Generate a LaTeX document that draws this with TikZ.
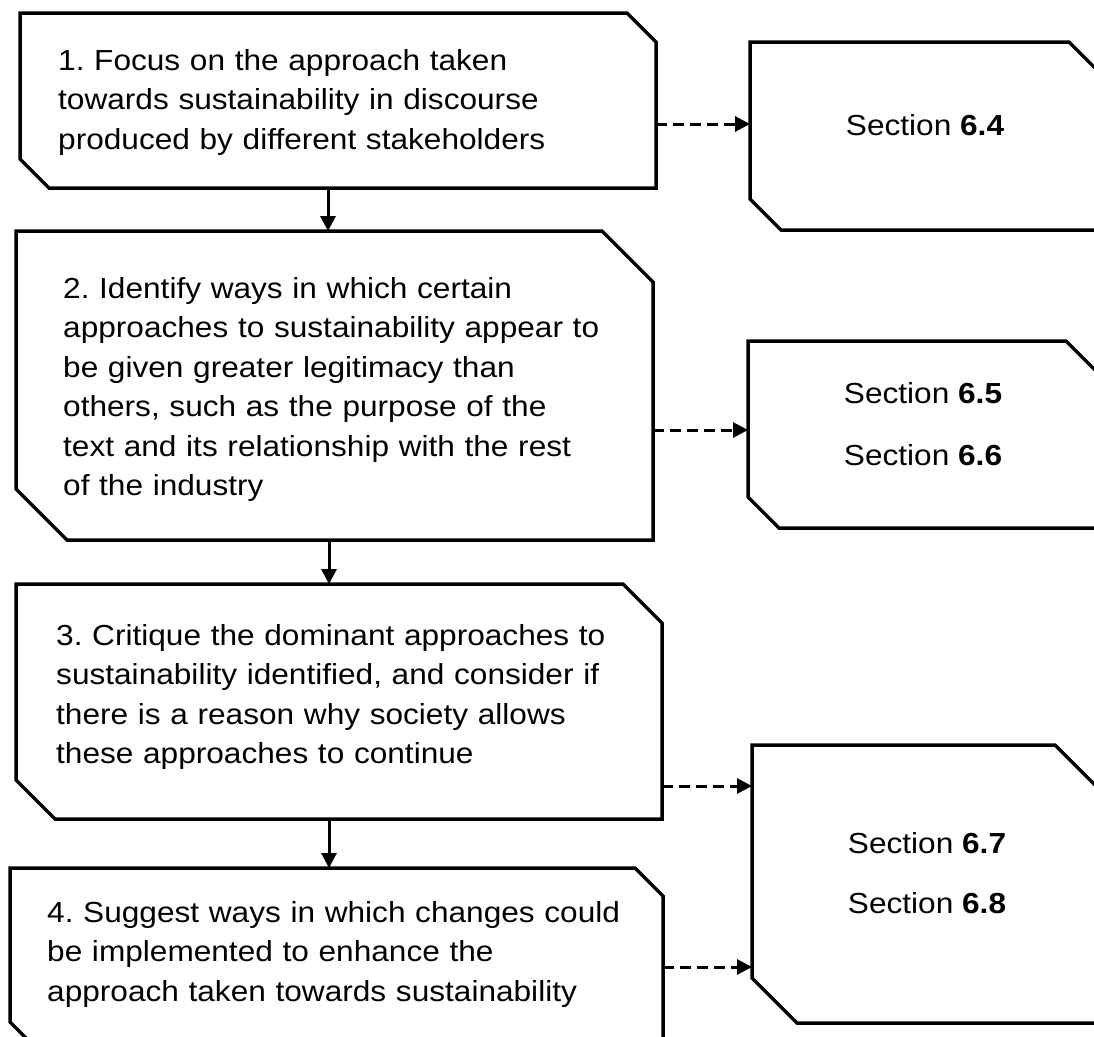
\documentclass[tikz,border=0pt]{standalone}
\usepackage{fontspec}
\setmainfont{Liberation Sans}[FakeStretch=1.09]
\usetikzlibrary{arrows.meta}

\tikzset{
  stagebox/.style={rectangle, draw=none, inner sep=0pt, outer sep=0pt},
  outline/.style={line width=3.5pt, line join=miter},
  stagetext/.style={anchor=base west, inner sep=0pt, text width=640pt, align=left,
    font=\fontsize{29}{39.5}\selectfont},
  sectext/.style={anchor=base, inner sep=0pt, font=\fontsize{29}{34}\selectfont},
  flow/.style={line width=3pt, -{Triangle[length=15pt,width=15pt]}},
  xref/.style={line width=3pt, dash pattern=on 11pt off 6pt,
    -{Triangle[length=15pt,width=15pt]}}
}

\begin{document}
\frenchspacing
\begin{tikzpicture}[x=1pt,y=-1pt]
  \useasboundingbox (0,0) rectangle (1094,1036);
  \clip (0,0) rectangle (1094,1036);

  % stage boxes on the left
  \node[stagebox, minimum width=636pt, minimum height=175pt] (b1) at (338,100.5) {};
  \node[stagebox, minimum width=637pt, minimum height=309pt] (b2) at (334.5,385.5) {};
  \node[stagebox, minimum width=646pt, minimum height=235pt] (b3) at (339,701.5) {};
  \node[stagebox, minimum width=653pt, minimum height=182pt] (b4) at (336.5,959) {};

  % section boxes on the right
  \node[stagebox, minimum width=350pt, minimum height=188pt] (s1) at (925,136) {};
  \node[stagebox, minimum width=349pt, minimum height=187pt] (s2) at (922.5,434.5) {};
  \node[stagebox, minimum width=348pt, minimum height=278pt] (s3) at (926,884) {};

  % outlines with the top right and bottom left corners cut off
  \foreach \n/\c in {b1/29, b2/51, b3/39, b4/28, s1/31, s2/31, s3/45}
    \draw[outline] (\n.north west) -- ([xshift=-\c pt]\n.north east)
      -- ([yshift=-\c pt]\n.north east) -- (\n.south east)
      -- ([xshift=\c pt]\n.south west) -- ([yshift=\c pt]\n.south west) -- cycle;

  % stage descriptions
  \node[stagetext] (t1) at (58,70) {1. Focus on the approach taken\\
    towards sustainability in discourse\\produced by different stakeholders};
  \node[stagetext] (t2) at (63,298) {2. Identify ways in which certain\\
    approaches to sustainability appear to\\be given greater legitimacy than\\
    others, such as the purpose of the\\text and its relationship with the rest\\
    of the industry};
  \node[stagetext] (t3) at (56,645) {3. Critique the dominant approaches to\\
    sustainability identified, and consider if\\there is a reason why society allows\\
    these approaches to continue};
  \node[stagetext] (t4) at (47,922) {4. Suggest ways in which changes could\\
    be implemented to enhance the\\approach taken towards sustainability};

  % section references
  \node[sectext] (r1) at (925,135) {Section \textbf{6.4}};
  \node[sectext] (r2) at (923,403) {Section \textbf{6.5}};
  \node[sectext] (r3) at (923,465) {Section \textbf{6.6}};
  \node[sectext] (r4) at (927,853) {Section \textbf{6.7}};
  \node[sectext] (r5) at (927,913) {Section \textbf{6.8}};

  % sequence of stages
  \draw[flow] ([xshift=-10pt]b1.south) -- ([xshift=-10pt]b1.south |- b2.north);
  \draw[flow] ([xshift=-5.5pt]b2.south) -- ([xshift=-5.5pt]b2.south |- b3.north);
  \draw[flow] ([xshift=-10pt]b3.south) -- ([xshift=-10pt]b3.south |- b4.north);

  % cross references to sections
  \draw[xref] ([yshift=-23.5pt]b1.east) -- ([yshift=-23.5pt]b1.east -| s1.west);
  \draw[xref] ([yshift=-44.5pt]b2.east) -- ([yshift=-44.5pt]b2.east -| s2.west);
  \draw[xref] ([yshift=-84.5pt]b3.east) -- ([yshift=-84.5pt]b3.east -| s3.west);
  \draw[xref] ([yshift=-8pt]b4.east) -- ([yshift=-8pt]b4.east -| s3.west);
\end{tikzpicture}
\end{document}
